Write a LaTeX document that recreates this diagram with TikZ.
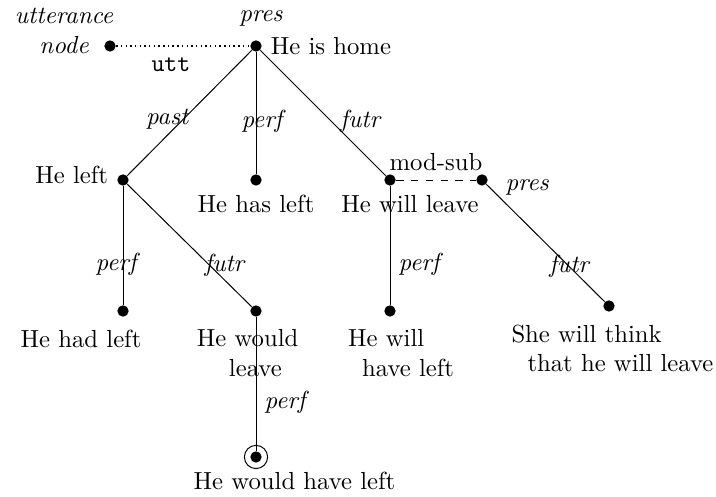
\documentclass[tikz,border=0pt]{standalone}
\usetikzlibrary{positioning}
\begin{document}
\begin{tikzpicture}[x=0.405pt,y=-0.405pt]
  \tikzstyle{dot node}=[circle,fill=black,inner sep=0,minimum size=4.6pt]
  \tikzstyle{tense}=[font=\itshape]
  \useasboundingbox (0,0) rectangle (716,497);
  % utterance node and the root
  \node[tense,align=center] (uttlabel) at (64,31) {utterance\\node};
  \node[dot node] (utt) at (110,46) {};
  \node[dot node,label={[tense,label distance=2pt,xshift=2pt]above:pres},label=right:He is home] (home) at (256,46) {};
  % first level
  \node[dot node,label={[yshift=2pt]left:He left}] (left) at (123,180) {};
  \node[dot node,label={below:He has left}] (hasleft) at (256,180) {};
  \node[dot node,label={[xshift=8.1pt]below:He will leave}] (willleave) at (390,180) {};
  \node[dot node,label={[tense,label distance=3.5pt,yshift=-3pt]right:pres}] (modsub) at (482,180) {};
  % second level
  \node[dot node,label={[xshift=-17pt,label distance=1.5pt]below:He had left}] (hadleft) at (123,311) {};
  \node[dot node,label={[xshift=-3.4pt,label distance=1.5pt,align=left]below:He would\\\hspace{13pt}leave}] (wouldleave) at (256,311) {};
  \node[dot node,label={[xshift=4.5pt,label distance=1.5pt,align=left]below:He will\\\hspace{5.7pt}have left}] (willhaveleft) at (390,311) {};
  \node[dot node,label={[xshift=1.4pt,label distance=1.5pt,align=left]below:She will think\\\hspace{6.5pt}that he will leave}] (think) at (609,306) {};
  % third level
  \node[dot node,label={[xshift=15.6pt,label distance=0pt]below:He would have left}] (wouldhaveleft) at (256,457) {};
  \draw (wouldhaveleft) circle (4.7pt);

  \draw[line width=0.7pt,dash pattern=on 0.6pt off 1.3pt] (utt) -- node[below,pos=.41,yshift=-1pt,font=\ttfamily]{utt} (home);
  \draw (home) -- node[tense,pos=.55,xshift=-6.5pt]{past} (left);
  \draw (home) -- node[tense,pos=.57,xshift=2.4pt]{perf} (hasleft);
  \draw (home) -- node[tense,pos=.57,right]{futr} (willleave);
  \draw[dashed] (willleave) -- node[above]{mod-sub} (modsub);
  \draw (left) -- node[tense,pos=.66,xshift=-2.8pt]{perf} (hadleft);
  \draw (left) -- node[tense,pos=.66,xshift=6.1pt]{futr} (wouldleave);
  \draw (willleave) -- node[tense,pos=.66,right]{perf} (willhaveleft);
  \draw (modsub) -- node[tense,pos=.7]{futr} (think);
  \draw (wouldleave) -- node[tense,pos=.64,right]{perf} (wouldhaveleft);
\end{tikzpicture}
\end{document}
